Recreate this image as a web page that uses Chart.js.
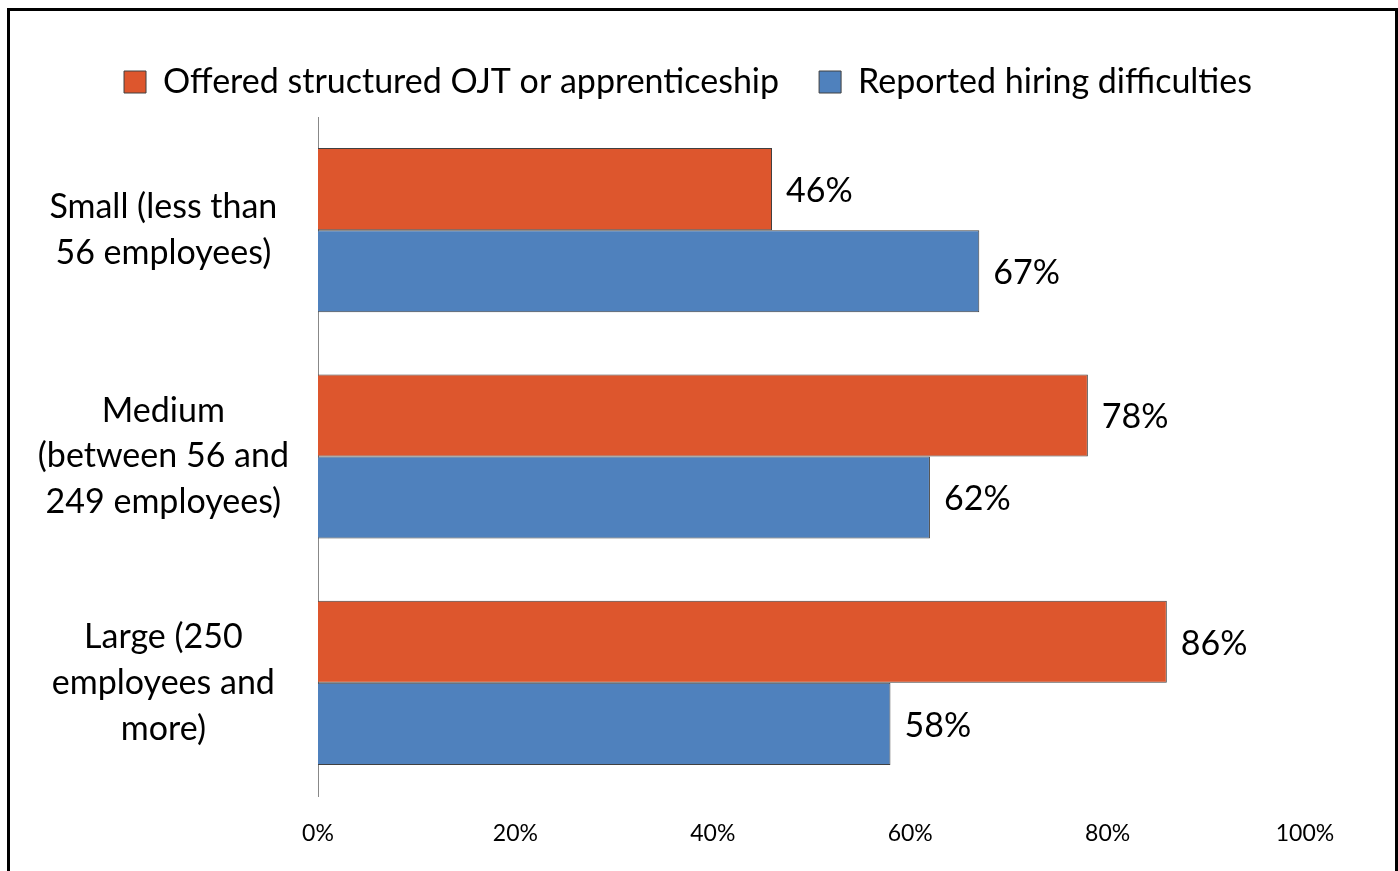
<!DOCTYPE html>
<html>
<head>
<meta charset="utf-8">
<title>Structured OJT and hiring difficulties by firm size</title>
<script src="https://cdn.jsdelivr.net/npm/chart.js@4.4.1/dist/chart.umd.min.js"></script>
<style>
  html, body { margin: 0; padding: 0; background: #fff; }
  #wrap { width: 1398px; height: 871px; }
</style>
</head>
<body>
<div id="wrap"><canvas id="chart" width="1398" height="871"></canvas></div>
<script>
// firm size groups (one array per wrapped label)
const categories = [
  ['Small (less than', '56 employees)'],
  ['Medium', '(between 56 and', '249 employees)'],
  ['Large (250', 'employees and', 'more)']
];
const seriesLabels = ['Offered structured OJT or apprenticeship', 'Reported hiring difficulties'];
const offeredOjt = [46, 78, 86];
const hiringDifficulties = [67, 62, 58];
const xTicks = [0, 20, 40, 60, 80, 100];

const FONT = 'Lato, sans-serif';
Chart.defaults.font.family = FONT;
Chart.defaults.color = '#000';

// keeps the legend band a fixed height and centres it over the whole frame
const legendBand = {
  id: 'legendBand',
  beforeInit(chart) {
    const legend = chart.legend;
    const fit = legend.fit;
    legend.fit = function () {
      fit.call(legend);
      this.height = 92;
    };
  },
  afterLayout(chart) {
    const legend = chart.legend;
    legend.left = 0;
    legend.right = 1376;
    legend.width = legend.right - legend.left;
  }
};

// percentage text at the end of every bar
const barValueLabels = {
  id: 'barValueLabels',
  afterDatasetsDraw(chart) {
    const { ctx } = chart;
    ctx.save();
    ctx.font = '34px ' + FONT;
    ctx.fillStyle = '#000';
    ctx.textAlign = 'left';
    ctx.textBaseline = 'middle';
    chart.data.datasets.forEach((ds, i) => {
      chart.getDatasetMeta(i).data.forEach((bar, j) => {
        ctx.fillText(ds.data[j] + '%', bar.x + 14, bar.y + 2);
      });
    });
    ctx.restore();
  }
};

// black outline round the chart
const frame = {
  id: 'frame',
  afterDraw(chart) {
    const { ctx } = chart;
    ctx.save();
    ctx.strokeStyle = '#000';
    ctx.lineWidth = 3;
    ctx.strokeRect(8.5, 9.5, 1388, 900);
    ctx.restore();
  }
};

const ctx = document.getElementById('chart').getContext('2d');
new Chart(ctx, {
  type: 'bar',
  data: {
    labels: categories,
    datasets: [
      {
        label: seriesLabels[0],
        data: offeredOjt,
        backgroundColor: '#DD562D',
        borderColor: '#404040',
        borderWidth: 1
      },
      {
        label: seriesLabels[1],
        data: hiringDifficulties,
        backgroundColor: '#4F81BD',
        borderColor: '#404040',
        borderWidth: 1
      }
    ]
  },
  options: {
    indexAxis: 'y',
    responsive: false,
    animation: false,
    devicePixelRatio: 1,
    layout: { padding: { top: 25, left: 10, right: 93, bottom: 0 } },
    datasets: {
      bar: { categoryPercentage: 0.725, barPercentage: 1 }
    },
    plugins: {
      legend: {
        position: 'top',
        labels: {
          boxWidth: 22,
          boxHeight: 22,
          padding: 40,
          color: '#000',
          font: { size: 34 }
        }
      },
      tooltip: { enabled: false }
    },
    scales: {
      x: {
        min: 0,
        max: 100,
        grid: { display: false, drawTicks: false },
        border: { display: false },
        afterBuildTicks: scale => {
          scale.ticks = xTicks.map(v => ({ value: v }));
        },
        ticks: {
          padding: 24,
          font: { size: 23 },
          color: '#000',
          callback: v => v + '%'
        },
        afterFit: scale => { scale.height = 75; }
      },
      y: {
        grid: { display: false, drawTicks: false },
        border: { display: true, color: '#888', width: 1 },
        ticks: {
          padding: 29,
          crossAlign: 'center',
          color: '#000',
          font: { size: 34, lineHeight: 1.35 }
        },
        afterFit: scale => { scale.width = 308; }
      }
    }
  },
  plugins: [legendBand, barValueLabels, frame]
});
</script>
</body>
</html>
